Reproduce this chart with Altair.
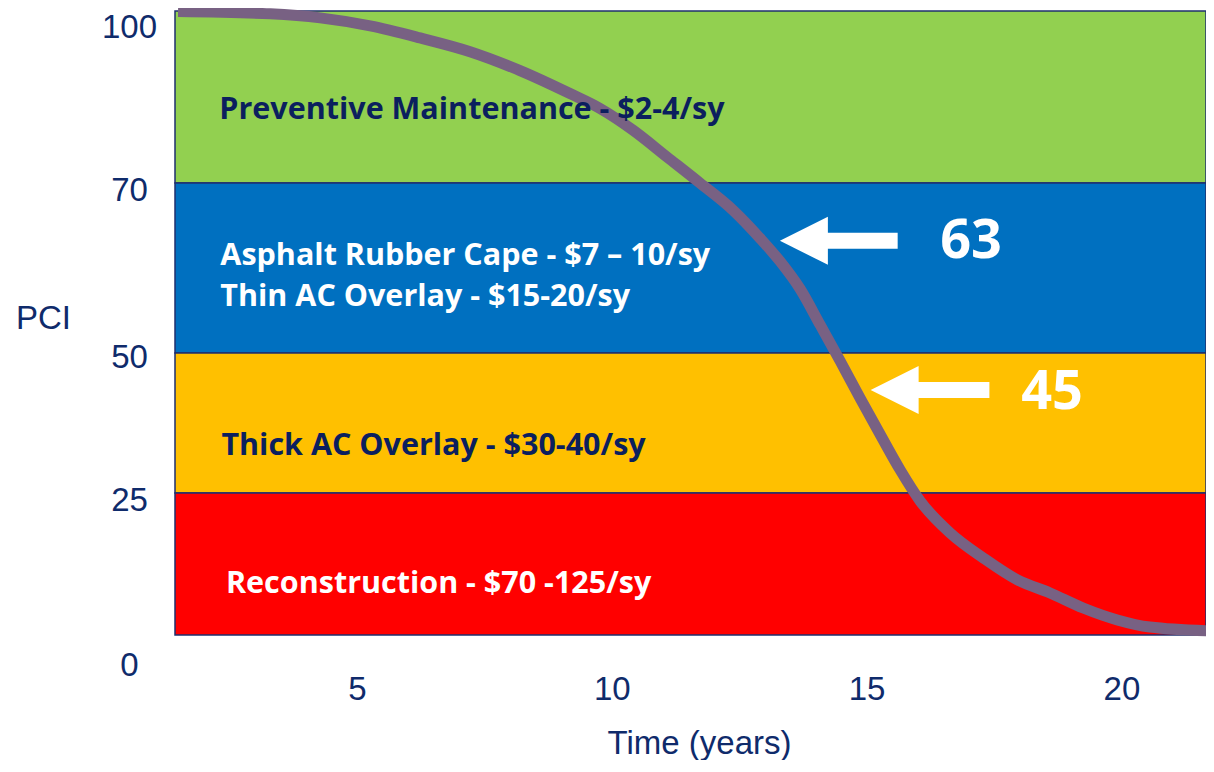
import altair as alt
import pandas as pd

# ---- data ----
band_names = ["Preventive Maintenance", "Rehab (thin)", "Rehab (thick)", "Reconstruction"]
band_lo = [70, 50, 25, 0]
band_hi = [100, 70, 50, 25]
band_colors = ["#92D050", "#0070C0", "#FFC000", "#FF0000"]

curve_years = [1.49, 3.30, 4.28, 5.26, 6.24, 7.22, 8.20, 9.18, 9.77, 10.42, 11.09,
               11.73, 12.38, 12.91, 13.30, 13.70, 14.09, 14.48, 14.87, 15.27, 15.66,
               16.05, 16.64, 17.29, 17.96, 18.60, 19.25, 19.92, 20.56, 21.80]
curve_pci = [99.9, 99.5, 98.8, 97.4, 95.3, 92.9, 89.6, 85.6, 83.0, 79.2, 74.5,
             70.0, 66.8, 63.5, 60.8, 57.5, 53.3, 48.6, 42.0, 35.4, 29.1,
             23.6, 17.96, 13.56, 9.7, 7.4, 4.75, 2.65, 1.4, 0.7]

band_text = ["Preventive Maintenance - $2-4/sy",
             "Asphalt Rubber Cape - $7 \u2013 10/sy",
             "Thin AC Overlay - $15-20/sy",
             "Thick AC Overlay - $30-40/sy",
             "Reconstruction - $70 -125/sy"]
band_text_x = [2.30, 2.32, 2.32, 2.34, 2.43]
band_text_y = [82.7, 61.4, 56.6, 33.4, 9.0]
band_text_color = ["#0B1F5E", "white", "white", "#0B1F5E", "white"]

arrow_labels = ["63", "45"]
arrow_head_x = [13.77, 15.55]
arrow_tail_start = [13.99, 15.76]
arrow_tail_end = [15.61, 17.41]
arrow_y = [63.2, 43.4]
arrow_label_x = [17.05, 18.64]
arrow_label_y = [63.1, 42.9]

x_ticks = [5, 10, 15, 20]
y_ticks = [0, 25, 50, 70, 100]

X_DOMAIN = [1.43, 21.66]
W, H = 1031, 624
NAVY = "#0F2B6B"

bands = pd.DataFrame({"name": band_names, "lo": band_lo, "hi": band_hi, "color": band_colors})
curve = pd.DataFrame({"year": curve_years, "pci": curve_pci})
texts = pd.DataFrame({"t": band_text, "x": band_text_x, "y": band_text_y, "c": band_text_color})
arrows = pd.DataFrame({"lab": arrow_labels, "hx": arrow_head_x, "sx": arrow_tail_start,
                       "ex": arrow_tail_end, "y": arrow_y, "lx": arrow_label_x, "ly": arrow_label_y})

xscale = alt.Scale(domain=X_DOMAIN, nice=False, zero=False)
yscale = alt.Scale(domain=[0, 25, 50, 70, 100], range=[H, 482, 342, 172, 0], nice=False, zero=False)

xaxis = alt.Axis(values=x_ticks, title="Time (years)", grid=False, domain=False, ticks=False,
                 tickSize=0, labelFont="Liberation Sans", labelFontSize=33, labelColor=NAVY,
                 labelPadding=54, labelBaseline="middle", labelFlush=False,
                 titleFont="Liberation Sans", titleFontSize=33, titleFontWeight="normal",
                 titleColor=NAVY, titleX=524, titleY=118, titleAlign="center",
                 titleBaseline="alphabetic", titleAnchor="start")
yaxis = alt.Axis(values=y_ticks, title="PCI", grid=False, domain=False, ticks=False,
                 tickSize=0, labelFont="Liberation Sans", labelFontSize=33, labelColor=NAVY,
                 labelPadding=46, labelAlign="center", labelBaseline="middle", labelFlush=False,
                 labelOverlap=False,
                 labelOffset=alt.ExprRef("datum.value == 0 ? 30 : datum.value == 100 ? 16 : datum.value == 50 ? 4 : 7"),
                 titleFont="Liberation Sans", titleFontSize=33, titleFontWeight="normal",
                 titleColor=NAVY, titleAngle=0, titleX=-132, titleY=307, titleAlign="center",
                 titleBaseline="middle", titleAnchor="start")

band_layer = alt.Chart(bands).mark_rect(stroke="#1F2F6E", strokeWidth=1.5).encode(
    y=alt.Y("lo:Q", scale=yscale, axis=yaxis),
    y2="hi:Q",
    color=alt.Color("color:N", scale=None),
)

curve_layer = alt.Chart(curve).mark_line(color="#786183", strokeWidth=11,
                                         interpolate="monotone", strokeCap="butt").encode(
    x=alt.X("year:Q", scale=xscale, axis=xaxis),
    y=alt.Y("pci:Q", scale=yscale),
)

shaft_layer = alt.Chart(arrows).mark_rule(color="white", strokeWidth=16, strokeCap="butt").encode(
    x=alt.X("sx:Q", scale=xscale), x2="ex:Q", y=alt.Y("y:Q", scale=yscale)
)
head_layer = alt.Chart(arrows).mark_point(shape="M -1 0 L 1 -1 L 1 1 Z", filled=True,
                                          color="white", opacity=1, size=2304).encode(
    x=alt.X("hx:Q", scale=xscale), y=alt.Y("y:Q", scale=yscale)
)
arrow_text = alt.Chart(arrows).mark_text(font="Open Sans", fontWeight="bold", fontSize=54,
                                         color="white", align="center", baseline="middle").encode(
    x=alt.X("lx:Q", scale=xscale), y=alt.Y("ly:Q", scale=yscale), text="lab:N"
)

band_text_layer = alt.Chart(texts).mark_text(font="Open Sans", fontWeight="bold", fontSize=30.5,
                                             align="left", baseline="middle").encode(
    x=alt.X("x:Q", scale=xscale), y=alt.Y("y:Q", scale=yscale), text="t:N",
    color=alt.Color("c:N", scale=None),
)

chart = alt.layer(band_layer, curve_layer, shaft_layer, head_layer, arrow_text, band_text_layer).properties(
    width=W, height=H,
    autosize=alt.AutoSizeParams(type="none"),
    padding={"left": 167, "top": 3, "right": 0, "bottom": 125},
    background="white",
).configure_view(stroke=None)

chart.save("out.html", embed_options={"renderer": "svg", "actions": False})
